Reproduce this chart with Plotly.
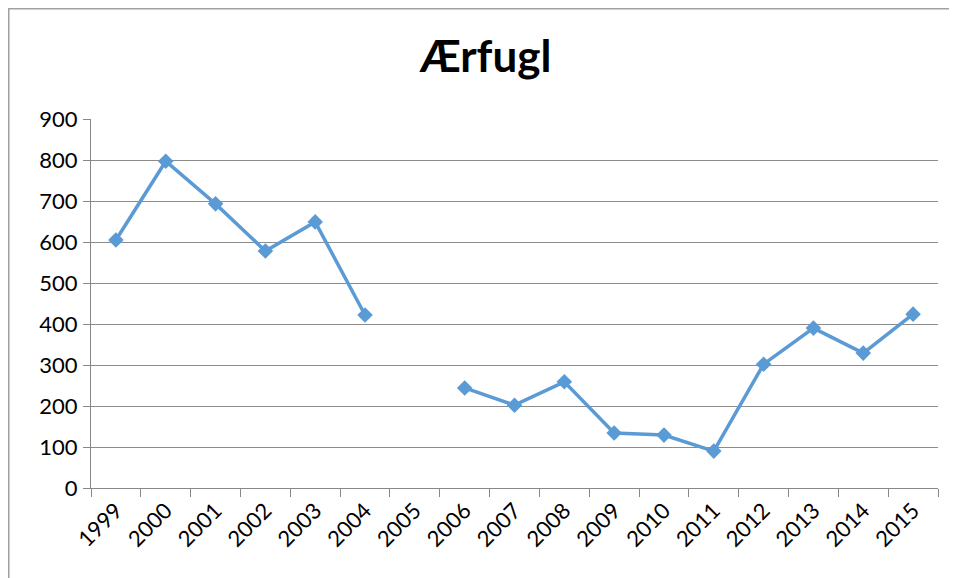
import plotly.graph_objects as go

years = [str(y) for y in range(1999, 2016)]
values = [605, 797, 693, 578, 649, 422, None, 244, 202, 259, 134, 129, 90, 302, 390, 329, 424]
y_ticks = [0, 100, 200, 300, 400, 500, 600, 700, 800, 900]

# page body has an 8px margin, so the figure is sized to fit the window
W, H = 949, 570
L, R, T, B = 83, 19, 111, 90
pw, ph = W - L - R, H - T - B

fig = go.Figure()
fig.add_trace(go.Scatter(
    x=years, y=values, mode="lines+markers", connectgaps=False,
    line=dict(color="#5B9BD5", width=3.5),
    marker=dict(symbol="diamond", size=12, color="#5B9BD5"),
    showlegend=False, hoverinfo="x+y"))

def px_x(p):
    return (p - L) / pw

def px_y(p):
    return (H - B - p) / ph

fig.update_layout(
    width=W, height=H,
    margin=dict(l=L, r=R, t=T, b=B, autoexpand=False),
    paper_bgcolor="white", plot_bgcolor="white",
    title=dict(text="<b>Ærfugl</b>", x=477.5 / W, xanchor="center", xref="container",
               y=1 - 49 / H, yref="container", yanchor="middle",
               font=dict(family="Lato, Open Sans, sans-serif", size=44, color="black")),
    font=dict(family="Lato, Open Sans, sans-serif", size=22, color="black"),
    xaxis=dict(type="category", tickson="boundaries", ticks="outside", ticklen=8,
               tickcolor="#888888", tickwidth=1, showline=True, linecolor="#888888",
               linewidth=1, showgrid=False, tickangle=-45, range=[-0.5, 16.5],
               tickfont=dict(size=22), fixedrange=True, automargin=False),
    yaxis=dict(range=[0, 900], tickvals=y_ticks, ticks="outside", ticklen=7,
               tickcolor="#888888", showline=True, linecolor="#888888", linewidth=1,
               showgrid=True, gridcolor="#8c8c8c", gridwidth=1, zeroline=False,
               tickfont=dict(size=22), ticklabelstandoff=1, fixedrange=True,
               automargin=False),
    shapes=[
        dict(type="line", xref="paper", yref="paper",
             x0=px_x(0), x1=px_x(W), y0=px_y(0.75), y1=px_y(0.75),
             line=dict(color="#a0a0a0", width=1.5)),
        dict(type="line", xref="paper", yref="paper",
             x0=px_x(0.75), x1=px_x(0.75), y0=px_y(0), y1=px_y(H),
             line=dict(color="#a0a0a0", width=1.5)),
    ],
)

fig.write_html("out.html", config={"displayModeBar": False})
